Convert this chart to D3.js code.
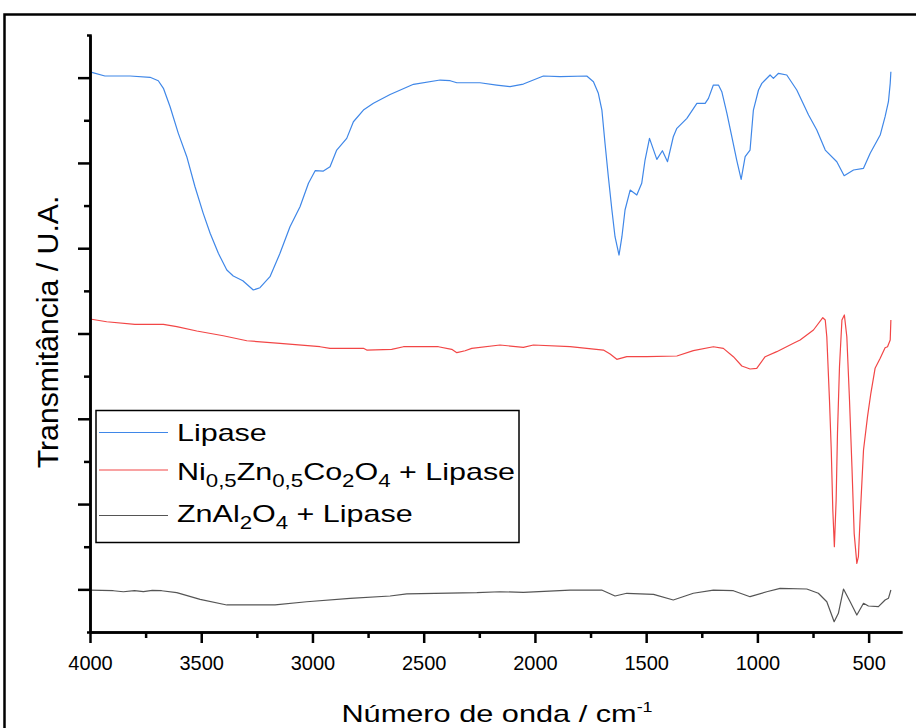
<!DOCTYPE html>
<html><head><meta charset="utf-8">
<script src="https://cdn.jsdelivr.net/npm/d3@7"></script>
<style>
body{margin:0;background:#fff}
text{font-family:"Liberation Sans",Arial,sans-serif;fill:#000}
</style>
</head><body>
<svg id="c" width="916" height="728"></svg>
<script>
// ---- data (wavenumber in cm-1, transmittance in arbitrary units) ----
const lipaseWn = [3992,3933,3820,3730,3693,3670,3640,3603,3565,3528,3491,3460,3423,3385,3356,3313,3266,3236,3191,3146,3101,3056,3018,2988,2951,2921,2891,2846,2816,2771,2726,2651,2546,2426,2381,2351,2247,2172,2112,2052,1962,1887,1767,1737,1715,1699,1685,1670,1654,1640,1622,1609,1595,1572,1542,1520,1505,1485,1452,1427,1404,1378,1362,1317,1272,1235,1220,1198,1175,1160,1137,1115,1093,1073,1055,1033,1018,995,980,943,928,905,868,823,770,733,695,643,610,568,523,493,448,426,411,403,400];
const lipaseT = [65.62,65.19,65.19,65.04,64.64,63.75,61.59,58.47,55.73,52.21,49.09,46.75,44.40,42.44,41.74,41.19,40.10,40.37,41.66,44.40,47.52,49.87,52.61,54.09,54.05,54.55,56.51,57.88,59.83,61.20,61.99,63.02,64.22,64.72,64.64,64.40,64.40,64.13,63.94,64.25,65.19,65.11,65.19,64.52,63.16,61.20,57.30,53.38,49.48,46.35,44.20,46.35,49.48,51.82,51.24,52.61,55.34,57.88,55.42,56.43,55.14,58.07,59.06,60.23,61.99,61.99,62.57,64.13,64.13,63.35,60.82,58.07,55.34,53.08,55.73,56.51,61.20,63.55,64.33,65.31,64.92,65.51,65.31,63.55,60.62,58.86,56.51,55.14,53.50,54.17,54.37,56.13,58.27,60.42,62.18,64.33,65.69];

const nzcWn = [4000,3925,3798,3670,3610,3520,3401,3295,3146,2966,2921,2771,2756,2644,2591,2434,2374,2351,2314,2284,2157,2052,2007,1842,1767,1692,1662,1632,1587,1497,1362,1288,1198,1153,1108,1070,1033,1003,965,913,838,808,748,706,695,688,676,668,661,654,646,640,631,620,609,598,586,575,565,553,546,538,523,505,490,471,448,426,415,403,400];
const nzcT = [36.70,36.38,36.08,36.08,35.80,35.29,34.74,34.15,33.85,33.45,33.26,33.26,33.06,33.14,33.45,33.45,33.14,32.75,32.98,33.26,33.65,33.38,33.65,33.45,33.26,33.06,32.60,31.97,32.28,32.28,32.36,32.99,33.45,33.26,32.28,31.19,30.84,30.92,32.28,32.87,33.85,34.24,35.41,36.85,36.58,34.62,27.20,21.34,14.31,10.00,15.48,23.30,31.11,36.58,37.17,34.62,27.20,19.38,11.57,8.05,8.83,13.52,21.34,25.25,27.99,30.92,32.09,33.33,33.45,34.24,36.58];

const znalWn = [4000,3895,3850,3800,3760,3720,3678,3610,3505,3385,3168,3026,2831,2651,2576,2261,2157,2052,1842,1700,1640,1587,1467,1378,1288,1198,1108,1033,958,898,778,726,688,655,636,613,583,553,523,501,456,426,411,400];
const znalT = [4.92,4.84,4.72,4.86,4.74,4.88,4.84,4.61,3.83,3.17,3.17,3.55,3.95,4.22,4.46,4.61,4.72,4.65,4.92,4.92,4.22,4.54,4.42,3.75,4.54,4.92,4.84,4.14,4.72,5.12,5.04,4.54,3.55,1.21,2.19,5.04,3.55,1.99,3.37,3.05,2.97,3.75,3.95,4.92];

const xMajorTicks = [4000,3500,3000,2500,2000,1500,1000,500];
const xMinorTicks = [3750,3250,2750,2250,1750,1250,750];
const yMajorTicks = [5,15,25,35,45,55,65];
const yMinorTicks = [10,20,30,40,50,60];
const seriesColors = ["#3f87e8","#f24646","#555555"];

// ---- chart ----
const svg = d3.select("#c");
const x = d3.scaleLinear().domain([4000, 350]).range([90, 902]);
const y = d3.scaleLinear().domain([0, 70]).range([632, 35]);

// outer frame
svg.append("rect").attr("x",4.5).attr("y",14.5).attr("width",1000).attr("height",1000)
  .attr("fill","none").attr("stroke","#000").attr("stroke-width",2.5);

const series = [
  {wn: lipaseWn, t: lipaseT, c: seriesColors[0]},
  {wn: nzcWn, t: nzcT, c: seriesColors[1]},
  {wn: znalWn, t: znalT, c: seriesColors[2]}
];
const line = d3.line().x(d=>x(d[0])).y(d=>y(d[1]));
series.forEach(s=>{
  svg.append("path").datum(s.wn.map((w,i)=>[w,s.t[i]]))
    .attr("d",line).attr("fill","none").attr("stroke",s.c).attr("stroke-width",1.2)
    .attr("stroke-linejoin","round");
});

// axes
function styleAxis(g){
  g.selectAll("path,line").attr("stroke","#000").attr("stroke-width",2.5);
}
svg.append("g").attr("transform","translate(0,632)")
  .call(d3.axisBottom(x).tickValues(xMinorTicks).tickSize(6).tickSizeOuter(0).tickFormat(""))
  .call(styleAxis);
const xa = svg.append("g").attr("transform","translate(0,632)")
  .call(d3.axisBottom(x).tickValues(xMajorTicks).tickSize(11).tickSizeOuter(0).tickFormat(d3.format("d")))
  .call(styleAxis);
xa.selectAll(".tick text").attr("dy",null).attr("y",null)
  .attr("font-size",20).attr("font-family","Liberation Sans, Arial, sans-serif").attr("fill","#000")
  .attr("text-anchor","middle").attr("transform","translate(0,38) scale(1.0,1.05)");

svg.append("g").attr("transform","translate(90,0)")
  .call(d3.axisLeft(y).tickValues(yMinorTicks).tickSize(6).tickSizeOuter(0).tickFormat(""))
  .call(styleAxis);
svg.append("g").attr("transform","translate(90,0)")
  .call(d3.axisLeft(y).tickValues(yMajorTicks).tickSize(12).tickSizeOuter(3).tickFormat(""))
  .call(styleAxis);

// axis titles
const xt = svg.append("text").attr("text-anchor","middle").attr("font-size",24)
  .attr("transform","translate(497,722) scale(1.28,1)");
xt.append("tspan").text("Número de onda / cm");
xt.append("tspan").attr("font-size",14).attr("dy",-10).text("-1");

svg.append("text").attr("text-anchor","middle").attr("font-size",24)
  .attr("transform","translate(58,332) rotate(-90) scale(1.26,1.2)")
  .text("Transmitância / U.A.");

// legend
const lg = svg.append("g");
lg.append("rect").attr("x",96).attr("y",410.5).attr("width",423).attr("height",132)
  .attr("fill","#fff").attr("stroke","#000").attr("stroke-width",1.5);
const rowsY = [432.5, 470, 515.5];
const baseY = [441, 480, 522];
rowsY.forEach((ry,i)=>{
  lg.append("line").attr("x1",99).attr("x2",168).attr("y1",ry).attr("y2",ry)
    .attr("stroke",seriesColors[i]).attr("stroke-width",1.2);
});
function legendText(i, parts){
  const t = lg.append("text").attr("font-size",24)
    .attr("transform",`translate(177,${baseY[i]}) scale(1.27,1)`);
  let shifted = false;
  parts.forEach(p=>{
    const ts = t.append("tspan").text(p.s);
    if(p.sub){
      ts.attr("font-size",17.5);
      if(!shifted){ ts.attr("dy",7); shifted = true; }
    } else if(shifted){ ts.attr("dy",-7); shifted = false; }
  });
}
legendText(0,[{s:"Lipase"}]);
legendText(1,[{s:"Ni"},{s:"0,5",sub:1},{s:"Zn"},{s:"0,5",sub:1},{s:"Co"},{s:"2",sub:1},{s:"O"},{s:"4",sub:1},{s:"\u00a0+ Lipase"}]);
legendText(2,[{s:"ZnAl"},{s:"2",sub:1},{s:"O"},{s:"4",sub:1},{s:"\u00a0+ Lipase"}]);
</script>
</body></html>
